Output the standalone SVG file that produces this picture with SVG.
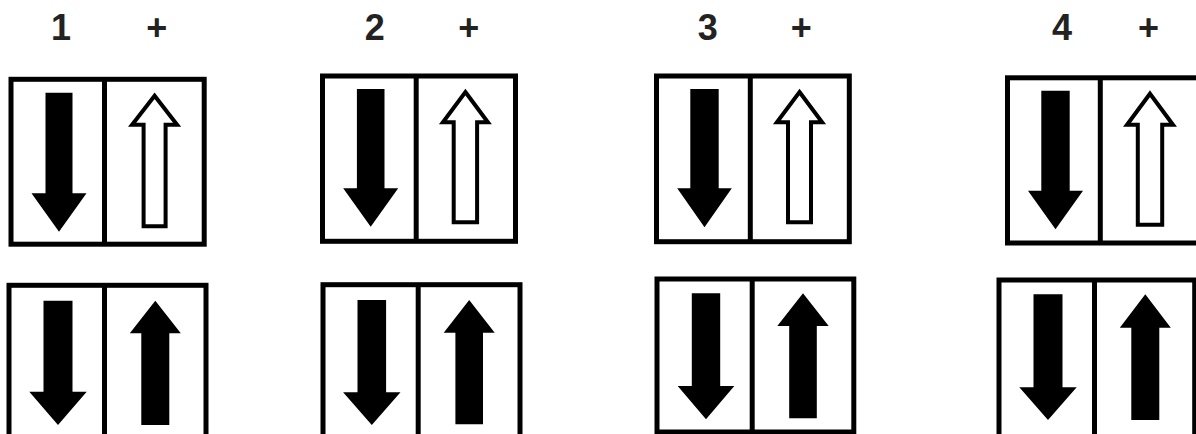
<svg xmlns="http://www.w3.org/2000/svg" width="1196" height="434" viewBox="0 0 1196 434">
<style>
.box{fill:#fff;stroke:#000;stroke-width:5}
.div{stroke:#000;stroke-width:5}
.fill{fill:#000}
.open{fill:#fff;stroke:#000;stroke-width:4;stroke-linejoin:miter}
.lbl{font-family:"Liberation Sans",Arial,sans-serif;font-weight:bold;font-size:36px;fill:#222;text-anchor:middle}
</style>
<rect width="1196" height="434" fill="#fff"/>
<g id="labels">
<text class="lbl" x="61" y="40">1</text>
<text class="lbl" x="156.7" y="40">+</text>
<text class="lbl" x="374.7" y="40">2</text>
<text class="lbl" x="468.8" y="40">+</text>
<text class="lbl" x="707.8" y="40">3</text>
<text class="lbl" x="801.2" y="40">+</text>
<text class="lbl" x="1062" y="40">4</text>
<text class="lbl" x="1148.5" y="40">+</text>
</g>
<g id="panel-1-top">
<rect class="box" x="11" y="79.3" width="193.2" height="164.9"/>
<line class="div" x1="104.5" y1="79.3" x2="104.5" y2="244.2"/>
<polygon class="fill" points="45.5,92.7 72.5,92.7 72.5,193.3 86.5,193.3 59,231.7 31.5,193.3 45.5,193.3"/>
<polygon class="open" points="154.6,95.7 177.1,124.7 165.6,124.7 165.6,226.3 143.6,226.3 143.6,124.7 132.1,124.7"/>
</g>
<g id="panel-2-top">
<rect class="box" x="322.5" y="76" width="193" height="165.3"/>
<line class="div" x1="416.2" y1="76" x2="416.2" y2="241.3"/>
<polygon class="fill" points="356.9,89 384.5,89 384.5,188.3 398.2,188.3 370.7,226.7 343.2,188.3 356.9,188.3"/>
<polygon class="open" points="465.4,92 487.9,122.3 477.1,122.3 477.1,222.3 453.7,222.3 453.7,122.3 442.9,122.3"/>
</g>
<g id="panel-3-top">
<rect class="box" x="656.5" y="76" width="192.8" height="165.7"/>
<line class="div" x1="750.3" y1="76" x2="750.3" y2="241.7"/>
<polygon class="fill" points="690.3,89 718.7,89 718.7,188.3 731.8,188.3 704.5,227.3 677.2,188.3 690.3,188.3"/>
<polygon class="open" points="799.5,92 822.1,122.3 811,122.3 811,222.3 788,222.3 788,122.3 776.9,122.3"/>
</g>
<g id="panel-4-top">
<rect class="box" x="1007.5" y="77.8" width="193" height="165.2"/>
<line class="div" x1="1100.3" y1="77.8" x2="1100.3" y2="243"/>
<polygon class="fill" points="1041.3,90.7 1069.7,90.7 1069.7,190.7 1083,190.7 1055.5,229.3 1028,190.7 1041.3,190.7"/>
<polygon class="open" points="1150,93.7 1173,124.7 1162.2,124.7 1162.2,224.7 1137.8,224.7 1137.8,124.7 1127,124.7"/>
</g>
<g id="panel-1-bottom">
<rect class="box" x="9" y="285.3" width="197" height="170"/>
<line class="div" x1="104.5" y1="285.3" x2="104.5" y2="440"/>
<polygon class="fill" points="43.5,300.7 72.5,300.7 72.5,391.7 86.7,391.7 58,425 29.3,391.7 43.5,391.7"/>
<polygon class="fill" points="155.3,300.7 180.8,333.3 169.3,333.3 169.3,425 141.3,425 141.3,333.3 129.8,333.3"/>
</g>
<g id="panel-2-bottom">
<rect class="box" x="323" y="284.7" width="197" height="170"/>
<line class="div" x1="418.2" y1="284.7" x2="418.2" y2="440"/>
<polygon class="fill" points="357.5,300 386.1,300 386.1,392.3 400.5,392.3 371.8,425 343.1,392.3 357.5,392.3"/>
<polygon class="fill" points="469.2,300 494.7,332.7 483,332.7 483,424.3 455.4,424.3 455.4,332.7 443.7,332.7"/>
</g>
<g id="panel-3-bottom">
<rect class="box" x="657" y="279" width="196.8" height="153"/>
<line class="div" x1="752.2" y1="279" x2="752.2" y2="432"/>
<polygon class="fill" points="691.8,293.3 720.2,293.3 720.2,386 734.3,386 706,419.3 677.7,386 691.8,386"/>
<polygon class="fill" points="803,293.3 828.7,326 816.8,326 816.8,418.3 789.2,418.3 789.2,326 777.3,326"/>
</g>
<g id="panel-4-bottom">
<rect class="box" x="999" y="280" width="195.7" height="170"/>
<line class="div" x1="1094.5" y1="280" x2="1094.5" y2="440"/>
<polygon class="fill" points="1033.5,294.3 1062.5,294.3 1062.5,387.3 1076.7,387.3 1048,420 1019.3,387.3 1033.5,387.3"/>
<polygon class="fill" points="1145.3,294.3 1170.8,327.7 1159.3,327.7 1159.3,420 1131.3,420 1131.3,327.7 1119.8,327.7"/>
</g>
<g id="connectors"/>
</svg>
